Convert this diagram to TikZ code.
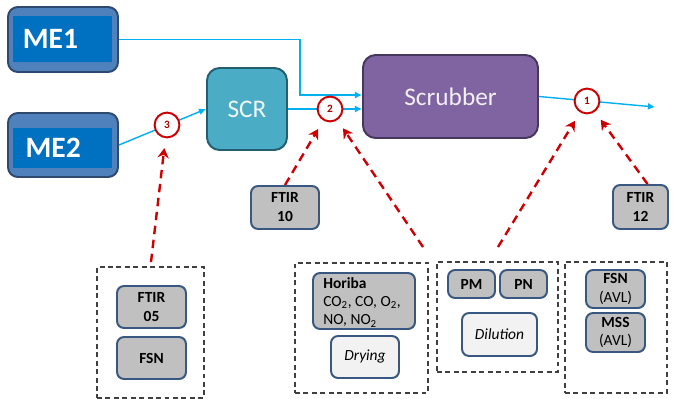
\documentclass[tikz,border=0pt]{standalone}
\usepackage{fontspec}
\setmainfont{Carlito}
\usetikzlibrary{arrows.meta,fit,positioning}

\definecolor{flowblue}{RGB}{0,176,240}
\definecolor{sampred}{RGB}{204,0,0}
\definecolor{engblue}{RGB}{79,129,189}
\definecolor{engcore}{RGB}{0,112,192}
\definecolor{engedge}{RGB}{47,72,110}
\definecolor{scrteal}{RGB}{75,172,198}
\definecolor{scredge}{RGB}{35,95,112}
\definecolor{scrubpurple}{RGB}{128,100,162}
\definecolor{scrubedge}{RGB}{70,55,95}
\definecolor{instedge}{RGB}{56,88,130}
\definecolor{instgray}{RGB}{192,192,192}
\definecolor{instlight}{RGB}{242,242,242}

\tikzset{
    wh/.style 2 args={minimum width=#1*0.025cm, minimum height=#2*0.025cm},
    engine/.style={draw=engedge, fill=engblue, line width=1.4pt, rounded corners=7pt, inner sep=0pt},
    engine core/.style={fill=engcore, inner sep=0pt},
    engine text/.style={text=white, font=\fontsize{21}{24}\selectfont\bfseries, inner sep=0pt},
    unit/.style={line width=1.4pt, rounded corners=9pt, inner sep=0pt, font=\fontsize{18}{20}\selectfont},
    instr/.style={draw=instedge, fill=instgray, line width=1.4pt, rounded corners=5pt, inner sep=0pt,
        align=center, font=\fontsize{11}{13.5}\selectfont},
    prep/.style={instr, fill=instlight, font=\fontsize{11}{13.5}\selectfont\itshape},
    group/.style={draw=black!75, line width=1pt, dash pattern=on 3.5pt off 2.5pt, inner sep=0pt},
    marker/.style={circle, draw=sampred, fill=white, line width=1.4pt, minimum size=0.62cm, inner sep=0pt,
        text=sampred!80!black, font=\fontsize{8}{9}\selectfont\bfseries},
    flow/.style={flowblue, line width=1pt, -{Latex[length=5pt,width=5pt]}},
    sample/.style={sampred, line width=1.7pt, dash pattern=on 6pt off 4pt,
        -{Stealth[length=7pt,width=8pt]}, shorten >=7pt}
}

\begin{document}
\begin{tikzpicture}[x=0.025cm, y=-0.025cm]
    \useasboundingbox (0,0) rectangle (674,399);

    % Engines
    \node[engine, fit={(8,7) (118,72)}] (me1) {};
    \node[engine core, fit={(13,16) (112,62)}] (me1c) {};
    \node[engine text, right=7pt of me1c.west] (me1t) {ME1};
    \node[engine, fit={(8,113) (118,177)}] (me2) {};
    \node[engine core, fit={(13,128) (112,168)}] (me2c) {};
    \node[engine text, right=9pt of me2c.west] (me2t) {ME2};

    % After-treatment
    \node[unit, wh={80}{82}, draw=scredge, fill=scrteal, text=white!92!scrteal] (scr) at (247,109) {SCR};
    \node[unit, wh={175}{83}, draw=scrubedge, fill=scrubpurple, text=white!90!scrubpurple] (scrub) at (450.5,96.5) {Scrubber};

    % Exhaust lines
    \coordinate (bend) at (300,95);
    \coordinate (stack) at (655,107);
    \draw[flow] (me1.east) -| (bend) -- (bend -| scrub.west);
    \draw[flow] (scr.east) -- (scr.east -| scrub.west);
    \draw[flow] (me2.east) -- (scr.west);
    \draw[flow] (scrub.east) -- (stack);

    % Sampling points
    \foreach \n/\p in {3/{(167,125)}, 2/{(330,109)}, 1/{(587,101)}}
        \node[marker] (c\n) at \p {\n};

    % Instruments
    \node[instr, wh={68}{43}] (ftir10) at (285,207.5) {\textbf{FTIR}\\\textbf{10}};
    \node[instr, wh={55}{44}] (ftir12) at (640.5,207) {\textbf{FTIR}\\\textbf{12}};

    \node[group, fit={(97,267) (204,398)}] (box1) {};
    \node[instr, wh={69}{42}] (ftir05) at (151.5,307) {\textbf{FTIR}\\\textbf{05}};
    \node[instr, wh={69}{42}] (fsn) at (151.5,358) {\textbf{FSN}};

    \node[group, fit={(295,263) (428,393)}] (box2) {};
    \node[instr, fit={(313,273) (415,329)}] (horiba) {};
    \node[align=left, anchor=north west, inner sep=0pt, font=\fontsize{11}{13}\selectfont] (horibat) at (323,277)
        {\textbf{Horiba}\\CO\textsubscript{2}, CO, O\textsubscript{2},\\NO, NO\textsubscript{2}};
    \node[prep, wh={68}{42}] (drying) at (365,357) {Drying};

    \node[group, fit={(437,262) (558,372)}] (box3) {};
    \node[instr, wh={47}{28}] (pm) at (471.5,284) {\textbf{PM}};
    \node[instr, wh={47}{28}] (pn) at (523.5,284) {\textbf{PN}};
    \node[prep, wh={75}{43}] (dilution) at (499.5,334.5) {Dilution};

    \node[group, fit={(565,262) (667,393)}] (box4) {};
    \node[instr, wh={59}{38}] (fsnavl) at (615.5,289) {\textbf{FSN}\\(AVL)};
    \node[instr, wh={59}{39}] (mssavl) at (615.5,332.5) {\textbf{MSS}\\(AVL)};

    % Sampling lines
    \coordinate (src2) at (423,247);
    \coordinate (src1) at (498,247);
    \draw[sample, shorten <=3pt] (box1.north) -- (c3);
    \draw[sample] (ftir10.north) -- (c2);
    \draw[sample] (src2) -- (c2);
    \draw[sample] (src1) -- (c1);
    \draw[sample] ([xshift=5pt]ftir12.north) -- (c1);
\end{tikzpicture}
\end{document}
